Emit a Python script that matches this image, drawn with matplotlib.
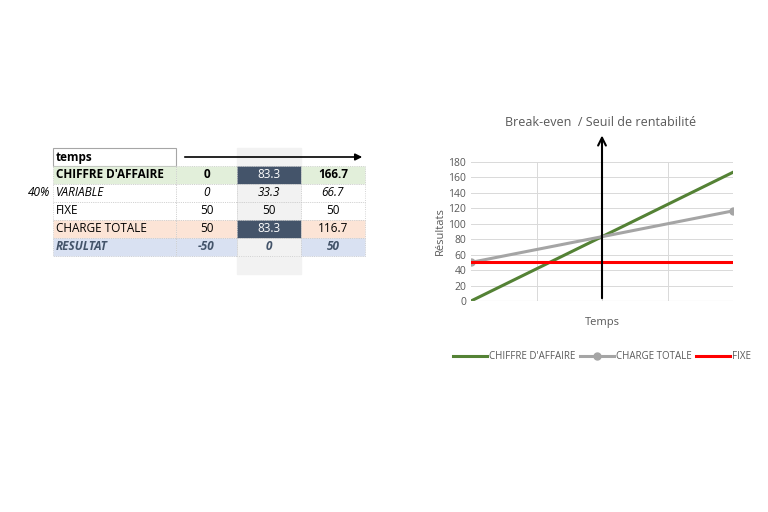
import matplotlib
matplotlib.use("Agg")
import matplotlib.pyplot as plt
from matplotlib.patches import Rectangle

plt.rcParams['font.family'] = ['Open Sans', 'DejaVu Sans']

# data
row_labels = ["CHIFFRE D'AFFAIRE", "VARIABLE", "FIXE", "CHARGE TOTALE", "RESULTAT"]
chiffre = [0, 83.3, 166.7]
variable = [0, 33.3, 66.7]
fixe = [50, 50, 50]
charge = [50, 83.3, 116.7]
resultat = [-50, 0, 50]
taux_variable = "40%"
temps = [0, 1, 2]

fig = plt.figure(figsize=(7.68, 5.12), dpi=100)

# ---- table drawn in pixel coords
tab = fig.add_axes([0, 0, 1, 1])
tab.set_xlim(0, 768)
tab.set_ylim(512, 0)
tab.axis("off")

col_x = [53, 176, 237, 301, 365]
row_y0 = 166
rh = 18
tab.add_patch(Rectangle((237, 148), 64, 126, color="#f2f2f2", zorder=0))
tab.add_patch(Rectangle((53, 148), 123, rh, fill=False, ec="#a6a6a6", lw=0.8))
tab.text(56, 157, "temps", fontsize=8.5, fontweight="bold", va="center")
tab.annotate("", xy=(365, 157), xytext=(182, 157),
             arrowprops=dict(arrowstyle="-|>", color="black", lw=1.2))

rows = [chiffre, variable, fixe, charge, resultat]
fills = ["#e2efda", "white", "white", "#fce4d6", "#d9e1f2"]
for i, (lab, vals, fc) in enumerate(zip(row_labels, rows, fills)):
    y = row_y0 + i * rh
    bold = i in (0, 4)
    ital = i in (1, 4)
    color = "#44546a" if i == 4 else "black"
    for j in range(4):
        x0, x1 = col_x[j], col_x[j + 1]
        cfc = fc
        tc = color
        if j == 2 and i in (0, 3):
            cfc, tc = "#44546a", "white"
        elif j == 2 and fc == "white" or (j == 2 and i == 4):
            cfc = "#f2f2f2"
        tab.add_patch(Rectangle((x0, y), x1 - x0, rh, fc=cfc, ec="#c8c8c8", lw=0.6, ls=":"))
        if j == 0:
            tab.text(x0 + 3, y + rh / 2, lab, fontsize=8.5, va="center",
                     fontweight="bold" if bold else "normal",
                     fontstyle="italic" if ital else "normal", color=tc)
        else:
            v = vals[j - 1]
            s = f"{v:g}"
            tab.text((x0 + x1) / 2, y + rh / 2, s, fontsize=8.5, va="center", ha="center",
                     fontweight="bold" if (bold and not (j == 2 and i == 0)) else "normal",
                     fontstyle="italic" if ital else "normal", color=tc)
tab.text(50, row_y0 + rh * 1.5, taux_variable, fontsize=8.5, fontstyle="italic",
         ha="right", va="center")

# ---- chart
ax = fig.add_axes([471 / 768, 1 - 301 / 512, 262 / 768, 139 / 512])
ax.plot(temps, chiffre, color="#548235", lw=2.2, label="CHIFFRE D'AFFAIRE")
ax.plot(temps, charge, color="#a5a5a5", lw=2.2, marker="o", markersize=5,
        label="CHARGE TOTALE", markevery=[0, 2])
ax.plot(temps, fixe, color="#ff0000", lw=2.2, label="FIXE")
ax.set_xlim(0, 2)
ax.set_ylim(0, 180)
ax.set_yticks(range(0, 181, 20))
ax.set_xticks([0.5, 1, 1.5])
ax.set_xticklabels([])
ax.tick_params(length=0, labelsize=7.5, labelcolor="#595959")
ax.grid(color="#d9d9d9", lw=0.7)
for s in ax.spines.values():
    s.set_visible(False)
ax.axhline(0, color="#d9d9d9", lw=0.8)
ax.annotate("", xy=(1, 218), xytext=(1, 0), annotation_clip=False,
            arrowprops=dict(arrowstyle="->", color="black", lw=1.5, mutation_scale=14))
ax.set_xlabel("Temps", fontsize=8, color="#595959", labelpad=8)
ax.set_ylabel("Résultats", fontsize=8, color="#595959", labelpad=2)
fig.text(601 / 768, 1 - 122 / 512, "Break-even  / Seuil de rentabilité",
         ha="center", va="center", fontsize=9, color="#595959")
ax.legend(loc="upper center", bbox_to_anchor=(0.5, -0.3), ncol=3, frameon=False,
          fontsize=7, labelcolor="#595959", handlelength=3.5, handletextpad=0.2,
          columnspacing=0.5)

fig.savefig("out.png", dpi=100)
